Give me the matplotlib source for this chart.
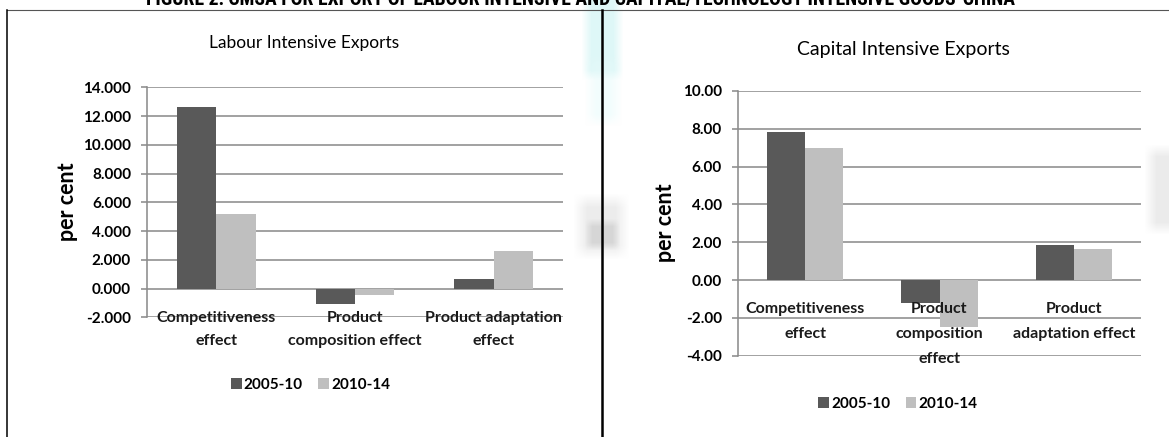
import matplotlib
matplotlib.use("Agg")
import matplotlib.pyplot as plt
from matplotlib import font_manager as fm
from matplotlib.lines import Line2D
from matplotlib.patches import Patch
import numpy as np

# ---- data -------------------------------------------------------------
series_names = ["2005-10", "2010-14"]

labour_categories = ["Competitiveness\neffect",
                     "Product\ncomposition effect",
                     "Product adaptation\neffect"]
labour_2005_10 = [12.66, -1.09, 0.70]
labour_2010_14 = [5.16, -0.47, 2.62]
labour_ticks = [-2, 0, 2, 4, 6, 8, 10, 12, 14]

capital_categories = ["Competitiveness\neffect",
                      "Product\ncomposition\neffect",
                      "Product\nadaptation effect"]
capital_2005_10 = [7.83, -1.23, 1.85]
capital_2010_14 = [7.00, -2.50, 1.65]
capital_ticks = [-4, -2, 0, 2, 4, 6, 8, 10]

figure_title = ("FIGURE 2: CMSA FOR EXPORT OF LABOUR INTENSIVE AND "
                "CAPITAL/TECHNOLOGY INTENSIVE GOODS-CHINA")

# ---- style ------------------------------------------------------------
DARK = "#595959"
LIGHT = "#bfbfbf"
GRID = "#8c8c8c"
FONT = ["Lato", "DejaVu Sans"]
plt.rcParams["font.family"] = FONT

W, H = 1169, 437
fig = plt.figure(figsize=(W / 100, H / 100), dpi=100)
fig.patch.set_facecolor("white")


def px_axes(x0, x1, ytop, ybot):
    return fig.add_axes([x0 / W, 1 - ybot / H, (x1 - x0) / W, (ybot - ytop) / H])


def fx(x):
    return x / W


def fy(y):
    return 1 - y / H


def condensed_bold_file():
    """Pick an installed narrow/condensed bold face, if there is one."""
    prefs = ["Liberation Sans Narrow", "Roboto Condensed", "Open Sans Condensed",
             "Noto Sans", "DejaVu Sans", "Open Sans", "Roboto"]
    narrow_words = ("Narrow", "Condensed", "Cond")
    found = []
    for f in fm.fontManager.ttflist:
        weight = f.weight if isinstance(f.weight, int) else (700 if "bold" in str(f.weight) else 400)
        stretch = str(f.stretch)
        narrow = ("condensed" in stretch) or any(w in f.name for w in narrow_words) \
            or any(w in f.fname for w in narrow_words)
        if narrow and 650 <= weight <= 800 and f.style == "normal" \
                and "Italic" not in f.fname:
            rank = next((i for i, p in enumerate(prefs) if f.name.startswith(p)), 99)
            found.append((rank, abs(weight - 700), f.fname))
    if not found:
        return None
    found.sort()
    return found[0][2]


# soft scanning marks on the page, painted behind everything
canvas = np.ones((H, W, 4))
canvas[..., 3] = 0.0
yy, xx = np.mgrid[0:H, 0:W]


def soft_blob(x0, x1, y0, y1, rgb, alpha, soft):
    ax_ = np.clip(np.minimum(xx - x0, x1 - xx) / soft + 0.5, 0, 1)
    ay_ = np.clip(np.minimum(yy - y0, y1 - yy) / soft + 0.5, 0, 1)
    a = alpha * ax_ * ay_
    col = np.array(matplotlib.colors.to_rgb(rgb))
    old = canvas[..., 3:4]
    new = a[..., None]
    canvas[..., :3] = (canvas[..., :3] * old * (1 - new) + col * new) / np.maximum(old * (1 - new) + new, 1e-9)
    canvas[..., 3] = old[..., 0] * (1 - a) + a


soft_blob(586, 618, -10, 75, "#d4f5f5", 0.75, 10)
soft_blob(590, 616, 60, 120, "#e6fbfb", 0.5, 12)
soft_blob(580, 622, 200, 252, "#d6d6d6", 0.45, 14)
soft_blob(588, 616, 222, 246, "#bdbdbd", 0.45, 8)
soft_blob(1150, 1175, 150, 228, "#d4d4d4", 0.45, 12)

bg = fig.add_axes([0, 0, 1, 1], zorder=-1)
bg.imshow(canvas, extent=(0, W, H, 0), interpolation="bilinear", aspect="auto")
bg.set_xlim(0, W)
bg.set_ylim(H, 0)
bg.axis("off")


def draw_panel(ax, cats, a, b, ticks, fmt, line_gap):
    x = np.arange(len(cats))
    w = 0.284
    ax.bar(x - w / 2, a, w, color=DARK, zorder=2)
    ax.bar(x + w / 2, b, w, color=LIGHT, zorder=2)
    ax.set_xlim(-0.5, len(cats) - 0.5)
    ax.set_ylim(ticks[0], ticks[-1])
    ax.set_yticks(ticks)
    ax.set_yticklabels([fmt.format(t) for t in ticks])
    ax.yaxis.grid(True, color=GRID, lw=1.15)
    ax.set_axisbelow(True)
    ax.set_xticks([])
    for s in ["top", "right", "bottom"]:
        ax.spines[s].set_visible(False)
    ax.spines["left"].set_color(GRID)
    ax.spines["left"].set_linewidth(1.15)
    ax.tick_params(axis="y", length=4, width=1.15, color=GRID, pad=7.5,
                   labelsize=11)
    for lab in ax.get_yticklabels():
        lab.set_fontweight("bold")
    ax.patch.set_alpha(0)
    # category names sit just under the zero line
    for xi, cat in zip(x, cats):
        for k, line in enumerate(cat.split("\n")):
            ax.annotate(line, xy=(xi, 0), xytext=(0, -(33.4 + k * line_gap)),
                        textcoords="offset pixels", ha="center", va="baseline",
                        fontsize=11.5, fontweight="bold", color="#1a1a1a",
                        zorder=5, annotation_clip=False)


def legend_at(cx, cy):
    handles = [Patch(facecolor=DARK), Patch(facecolor=LIGHT)]
    fig.legend(handles, series_names, loc="center",
               bbox_to_anchor=(fx(cx), fy(cy)), ncol=2, frameon=False,
               handlelength=0.7, handleheight=0.7, handletextpad=0.15,
               columnspacing=1.0, borderpad=0, borderaxespad=0,
               prop={"family": FONT, "weight": "bold", "size": 11})


# ---- left panel: labour intensive ---------------------------------------
ax1 = px_axes(147, 563, 87.4, 317.3)
draw_panel(ax1, labour_categories, labour_2005_10, labour_2010_14,
           labour_ticks, "{:.3f}", 23.3)
fig.text(fx(68), fy(201.5), "per cent", rotation=90, ha="center", va="center",
         fontsize=15.5, fontweight="bold")
fig.text(fx(304), fy(43), "Labour Intensive Exports", ha="center", va="center",
         fontsize=12.5)
legend_at(310.5, 385)

# ---- right panel: capital intensive -------------------------------------
ax2 = px_axes(738, 1141, 91, 355.6)
draw_panel(ax2, capital_categories, capital_2005_10, capital_2010_14,
           capital_ticks, "{:.2f}", 25)
fig.text(fx(665), fy(222.5), "per cent", rotation=90, ha="center", va="center",
         fontsize=15.5, fontweight="bold")
fig.text(fx(903), fy(50), "Capital Intensive Exports", ha="center", va="center",
         fontsize=14)
legend_at(898, 404)

# ---- frame lines ---------------------------------------------------------
fig.add_artist(Line2D([fx(6.5), 1], [fy(9.5), fy(9.5)], color="#555555", lw=0.8))
fig.add_artist(Line2D([fx(6.5), fx(6.5)], [fy(9.5), 0], color="black", lw=1.1))
fig.add_artist(Line2D([fx(601.7), fx(601.7)], [fy(9.5), 0], color="black", lw=1.8))

# ---- figure title, partly running off the top edge ------------------------
tfile = condensed_bold_file()
if tfile:
    tprops = fm.FontProperties(fname=tfile, size=11)
else:
    tprops = fm.FontProperties(family="DejaVu Sans", weight="bold", size=11)
title = fig.text(fx(580), fy(5.5), figure_title, ha="center", va="baseline",
                 fontproperties=tprops, color="black")
fig.canvas.draw()
bb = title.get_window_extent()
title.set_fontsize(11 * 865 / bb.width)

fig.savefig("out.png", dpi=100, facecolor="white")
